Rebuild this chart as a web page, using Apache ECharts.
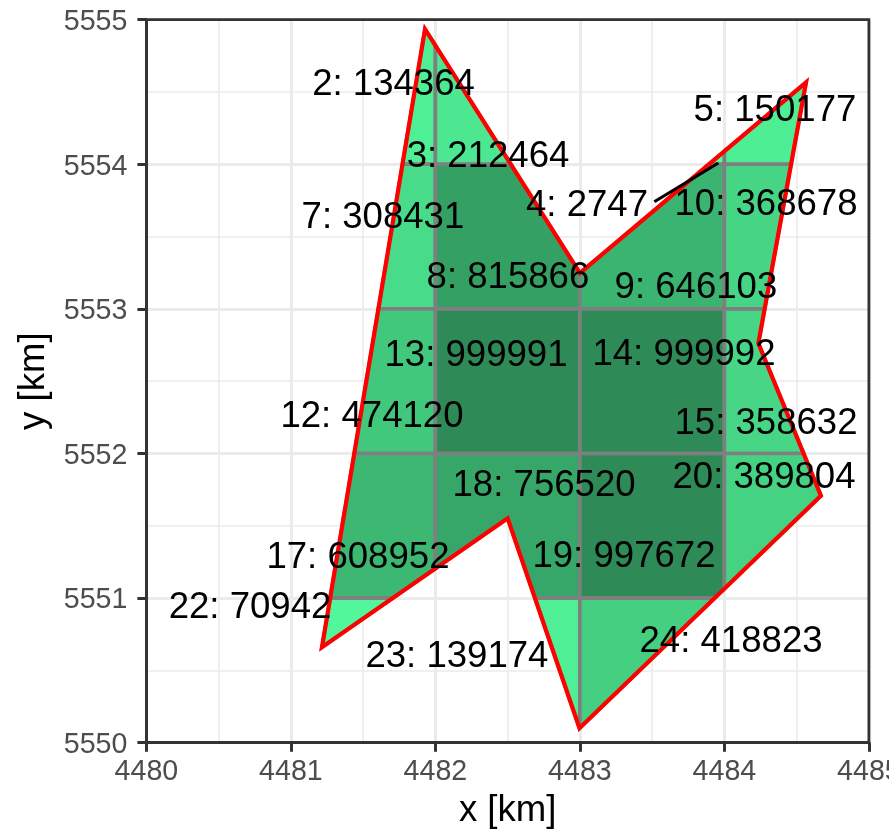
<!DOCTYPE html>
<html>
<head>
<meta charset="utf-8">
<style>html,body{margin:0;padding:0;background:#fff}#c{width:889px;height:830px}</style>
<script src="https://cdn.jsdelivr.net/npm/echarts@6/dist/echarts.min.js"></script>
</head>
<body>
<div id="c"></div>
<script>
// outline of the red polygon (km)
const polyX = [4481.928, 4483.000, 4484.565, 4484.235, 4484.668, 4482.997, 4482.500, 4481.215];
const polyY = [5554.934, 5553.248, 5554.567, 5552.762, 5551.708, 5550.100, 5551.552, 5550.660];
// grid cells: id, lower-left corner (km), value
const cellIds = [2, 3, 4, 5, 7, 8, 9, 10, 12, 13, 14, 15, 17, 18, 19, 20, 22, 23, 24];
const cellX0 = [4481, 4482, 4483, 4484, 4481, 4482, 4483, 4484, 4481, 4482, 4483, 4484, 4481, 4482, 4483, 4484, 4481, 4482, 4483];
const cellY0 = [5554, 5554, 5554, 5554, 5553, 5553, 5553, 5553, 5552, 5552, 5552, 5552, 5551, 5551, 5551, 5551, 5550, 5550, 5550];
const cellValues = [134364, 212464, 2747, 150177, 308431, 815866, 646103, 368678, 474120, 999991, 999992, 358632, 608952, 756520, 997672, 389804, 70942, 139174, 418823];
// repelled label anchors (km)
const labelX = [4481.710, 4482.364, 4483.049, 4484.350, 4481.637, 4482.502, 4483.803, 4484.288, 4481.561, 4482.281, 4483.720, 4484.288, 4481.464, 4482.752, 4483.305, 4484.274, 4480.717, 4482.149, 4484.046];
const labelY = [5554.562, 5554.064, 5553.725, 5554.382, 5553.642, 5553.228, 5553.158, 5553.732, 5552.266, 5552.688, 5552.695, 5552.218, 5551.291, 5551.789, 5551.298, 5551.844, 5550.945, 5550.606, 5550.710];
// leader segment of label 4
const leaderX = [4483.515, 4483.958];
const leaderY = [5553.741, 5554.009];
const xTicks = [4480, 4481, 4482, 4483, 4484, 4485];
const yTicks = [5550, 5551, 5552, 5553, 5554, 5555];

const LOW = [0x54, 0xFF, 0x9F], HIGH = [0x2E, 0x8B, 0x57];
const vMin = Math.min(...cellValues), vMax = Math.max(...cellValues);
function fillFor(v) {
  const t = (v - vMin) / (vMax - vMin);
  return 'rgb(' + LOW.map((c, i) => Math.round(c + (HIGH[i] - c) * t)).join(',') + ')';
}
const outline = polyX.map((x, i) => [x, polyY[i]]);
function clipHalf(pts, inside, cross) {
  const out = [];
  pts.forEach((p, i) => {
    const q = pts[(i + 1) % pts.length];
    const a = inside(p), b = inside(q);
    if (a) out.push(p);
    if (a !== b) out.push(cross(p, q));
  });
  return out;
}
function clipCell(x0, y0) {
  const atX = X => (p, q) => [X, p[1] + (q[1] - p[1]) * (X - p[0]) / (q[0] - p[0])];
  const atY = Y => (p, q) => [p[0] + (q[0] - p[0]) * (Y - p[1]) / (q[1] - p[1]), Y];
  let r = outline;
  r = clipHalf(r, p => p[0] >= x0, atX(x0));
  r = clipHalf(r, p => p[0] <= x0 + 1, atX(x0 + 1));
  r = clipHalf(r, p => p[1] >= y0, atY(y0));
  r = clipHalf(r, p => p[1] <= y0 + 1, atY(y0 + 1));
  return r;
}
const FONT = '"Liberation Sans", Arial, sans-serif';
const chart = echarts.init(document.getElementById('c'), null, {renderer: 'canvas'});
const axisCommon = {
  type: 'value', interval: 1, nameLocation: 'middle',
  nameTextStyle: {fontSize: 36.6, color: '#000', fontFamily: FONT},
  axisLine: {show: true, onZero: false, lineStyle: {color: '#333333', width: 3}},
  axisTick: {show: true, inside: false, length: 9, lineStyle: {color: '#333333', width: 3}},
  axisLabel: {fontSize: 28.6, color: '#4D4D4D', fontFamily: FONT, hideOverlap: false, showMaxLabel: true, showMinLabel: true, formatter: v => String(v)},
  splitLine: {show: true, lineStyle: {color: '#EBEBEB', width: 3}},
  minorTick: {show: false, splitNumber: 2},
  minorSplitLine: {show: true, lineStyle: {color: '#EBEBEB', width: 1.6}}
};
chart.setOption({
  animation: false,
  backgroundColor: '#fff',
  grid: {left: 146.4, right: 20.1, top: 19.7, bottom: 87.3, show: false, outerBoundsMode: 'none', containLabel: false},
  xAxis: Object.assign({}, axisCommon, {min: xTicks[0], max: xTicks[xTicks.length - 1], name: 'x [km]', nameGap: 50,
    axisLabel: Object.assign({}, axisCommon.axisLabel, {margin: 15})}),
  yAxis: Object.assign({}, axisCommon, {min: yTicks[0], max: yTicks[yTicks.length - 1], name: 'y [km]', nameGap: 93,
    axisLabel: Object.assign({}, axisCommon.axisLabel, {margin: 19, formatter: v => '{t|' + v + '}',
      rich: {t: {padding: [5, 0, 0, 0], fontSize: 28.6, color: '#4D4D4D', fontFamily: FONT}}})}),
  series: [
    {
      type: 'custom', coordinateSystem: 'cartesian2d', silent: true, clip: false, z: 3,
      data: cellIds.map((id, i) => [cellX0[i], cellY0[i], cellValues[i]]),
      renderItem: (params, api) => {
        const pts = clipCell(api.value(0), api.value(1)).map(p => api.coord(p));
        return {type: 'polygon', shape: {points: pts},
          style: {fill: fillFor(api.value(2)), stroke: '#7F7F7F', lineWidth: 3.6, lineJoin: 'miter'}};
      }
    },
    {
      type: 'custom', coordinateSystem: 'cartesian2d', silent: true, clip: false, z: 4,
      data: [[polyX[0], polyY[0]]],
      renderItem: (params, api) => ({type: 'polygon', shape: {points: outline.map(p => api.coord(p))},
        style: {fill: 'none', stroke: '#FF0000', lineWidth: 4.2, lineJoin: 'miter', miterLimit: 10}})
    },
    {
      type: 'line', silent: true, symbol: 'none', z: 5, clip: false,
      data: leaderX.map((x, i) => [x, leaderY[i]]),
      lineStyle: {color: '#000', width: 3.2, cap: 'butt'}
    },
    {
      type: 'custom', coordinateSystem: 'cartesian2d', silent: true, clip: false, z: 6,
      data: cellIds.map((id, i) => [labelX[i], labelY[i], id, cellValues[i]]),
      renderItem: (params, api) => {
        const p = api.coord([api.value(0), api.value(1)]);
        return {type: 'text', x: p[0], y: p[1] + 2, style: {
          text: api.value(2) + ': ' + api.value(3), x: 0, y: 0,
          fill: '#000', fontSize: 36.6, fontFamily: FONT, align: 'center', verticalAlign: 'middle'}};
      }
    },
    {
      // panel border
      type: 'custom', coordinateSystem: 'cartesian2d', silent: true, clip: false, z: 7,
      data: [[xTicks[0], yTicks[0], xTicks[xTicks.length - 1], yTicks[yTicks.length - 1]]],
      renderItem: (params, api) => {
        const a = api.coord([api.value(0), api.value(1)]);
        const b = api.coord([api.value(2), api.value(3)]);
        return {type: 'rect', shape: {x: a[0], y: b[1], width: b[0] - a[0], height: a[1] - b[1]},
          style: {fill: 'none', stroke: '#333333', lineWidth: 2.8}};
      }
    }
  ]
});
</script>
</body>
</html>
